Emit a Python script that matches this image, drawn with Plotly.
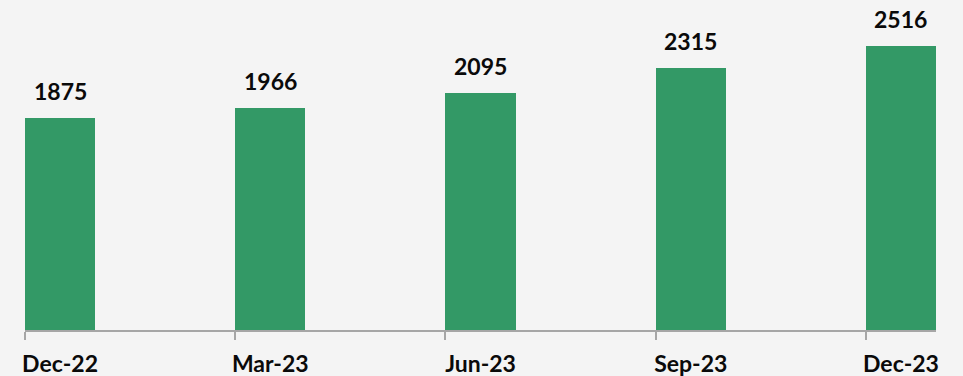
import plotly.graph_objects as go

# Quarter-end labels and the values shown above each bar
quarters = ["Dec-22", "Mar-23", "Jun-23", "Sep-23", "Dec-23"]
values = [1875, 1966, 2095, 2315, 2516]

bar_color = "#339966"
axis_color = "#a6a6a6"
bar_width = 1 / 3

# Bars start at the integer position of each quarter and extend right
positions = list(range(len(quarters)))
centers = [p + bar_width / 2 for p in positions]

label_font = dict(family="Lato", size=23, color="#0a0a0a", weight="bold")

fig = go.Figure(
    go.Bar(
        x=positions,
        y=values,
        width=bar_width,
        offset=0,
        marker=dict(color=bar_color, line=dict(width=0)),
        hoverinfo="skip",
    )
)

# Value labels floating above the bars
for c, v in zip(centers, values):
    fig.add_annotation(
        x=c, y=v, text=str(v), showarrow=False,
        yanchor="bottom", yshift=11, font=label_font,
    )

fig.update_layout(
    width=963,
    height=376,
    margin=dict(l=25, r=27, t=0, b=46),
    paper_bgcolor="#f4f4f4",
    plot_bgcolor="rgba(0,0,0,0)",
    showlegend=False,
    bargap=0,
    xaxis=dict(
        range=[0, len(quarters) - 1 + bar_width],
        tickmode="array",
        tickvals=centers,
        ticktext=quarters,
        ticks="",
        tickfont=label_font,
        ticklabelstandoff=13,
        automargin=False,
        showline=True,
        linecolor=axis_color,
        linewidth=1.5,
        showgrid=False,
        zeroline=False,
        fixedrange=True,
        minor=dict(
            tickmode="array",
            tickvals=positions,
            ticks="outside",
            ticklen=8,
            tickwidth=1.5,
            tickcolor=axis_color,
            showgrid=False,
        ),
    ),
    yaxis=dict(range=[0, 2920], visible=False, fixedrange=True),
)

fig.write_html("out.html")
